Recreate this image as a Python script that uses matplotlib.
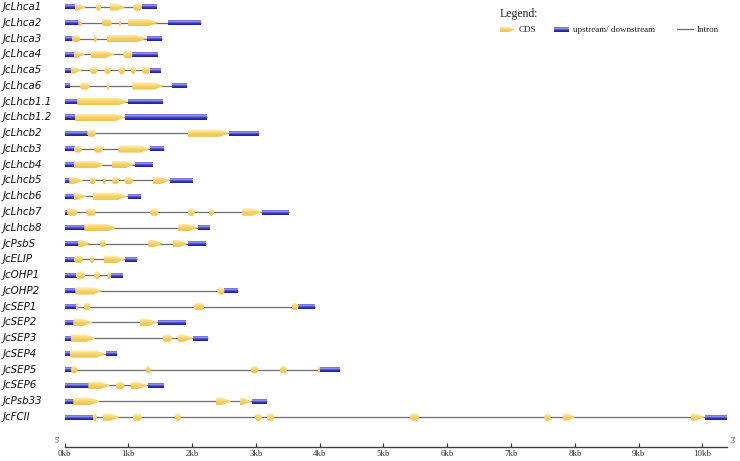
import matplotlib
matplotlib.use('Agg')
import matplotlib.pyplot as plt
import numpy as np
from matplotlib.patches import Polygon

# ---------------- data (kb) ----------------
gene_names = ['JcLhca1', 'JcLhca2', 'JcLhca3', 'JcLhca4', 'JcLhca5', 'JcLhca6',
              'JcLhcb1.1', 'JcLhcb1.2', 'JcLhcb2', 'JcLhcb3', 'JcLhcb4', 'JcLhcb5',
              'JcLhcb6', 'JcLhcb7', 'JcLhcb8', 'JcPsbS', 'JcELIP', 'JcOHP1', 'JcOHP2',
              'JcSEP1', 'JcSEP2', 'JcSEP3', 'JcSEP4', 'JcSEP5', 'JcSEP6', 'JcPsb33', 'JcFCII']

utr_regions = [
    [(0, 0.165), (1.21, 1.434)],
    [(0, 0.216), (1.627, 2.14)],
    [(0, 0.113), (1.288, 1.523)],
    [(0, 0.149), (1.063, 1.455)],
    [(0, 0.097), (1.34, 1.50)],
    [(0, 0.075), (1.68, 1.915)],
    [(0, 0.2), (1.0, 1.539)],
    [(0, 0.165), (0.953, 2.238)],
    [(0, 0.357), (2.583, 3.049)],
    [(0, 0.149), (1.345, 1.56)],
    [(0, 0.149), (1.1, 1.371)],
    [(0, 0.075), (1.649, 1.998)],
    [(0, 0.149), (0.99, 1.183)],
    [(0, 0.034), (3.096, 3.514)],
    [(0, 0.31), (2.092, 2.27)],
    [(0, 0.216), (1.94, 2.213)],
    [(0, 0.149), (0.953, 1.136)],
    [(0, 0.18), (0.729, 0.906)],
    [(0, 0.17), (2.505, 2.72)],
    [(0, 0.175), (3.665, 3.926)],
    [(0, 0.138), (1.461, 1.889)],
    [(0, 0.102), (2.019, 2.254)],
    [(0, 0.086), (0.65, 0.818)],
    [(0, 0.102), (4.005, 4.318)],
    [(0, 0.373), (1.304, 1.549)],
    [(0, 0.138), (2.934, 3.169)],
    [(0, 0.442), (10.04, 10.38)],
]

cds_regions = [
    [(0.165, 0.34), (0.494, 0.572), (0.713, 0.964), (1.078, 1.21)],
    [(0.216, 0.27), (0.583, 0.74), (0.85, 0.886), (0.99, 1.47)],
    [(0.113, 0.243), (0.462, 0.505), (0.661, 1.288)],
    [(0.149, 0.321), (0.415, 0.79), (0.92, 1.063)],
    [(0.097, 0.279), (0.40, 0.514), (0.624, 0.724), (0.843, 0.948), (1.037, 1.12), (1.21, 1.34)],
    [(0.243, 0.389), (0.661, 0.702), (1.063, 1.56)],
    [(0.2, 1.0)],
    [(0.165, 0.953)],
    [(0.357, 0.489), (1.93, 2.583)],
    [(0.149, 0.27), (0.462, 0.6), (0.843, 1.345)],
    [(0.149, 0.635), (0.745, 1.1)],
    [(0.075, 0.295), (0.40, 0.489), (0.599, 0.65), (0.74, 0.854), (0.937, 1.069), (1.382, 1.649)],
    [(0.149, 0.348), (0.442, 0.99)],
    [(0.034, 0.2), (0.332, 0.489), (1.34, 1.47), (1.93, 2.045), (2.265, 2.343), (2.787, 3.096)],
    [(0.31, 0.818), (1.784, 2.092)],
    [(0.216, 0.41), (0.556, 0.65), (1.313, 1.549), (1.696, 1.94)],
    [(0.149, 0.285), (0.40, 0.462), (0.619, 0.953)],
    [(0.18, 0.321), (0.462, 0.556), (0.671, 0.729)],
    [(0.17, 0.599), (2.395, 2.505)],
    [(0.175, 0.216), (0.306, 0.4), (2.03, 2.186), (3.56, 3.665)],
    [(0.138, 0.442), (1.183, 1.461)],
    [(0.102, 0.494), (1.539, 1.68), (1.774, 2.019)],
    [(0.086, 0.65)],
    [(0.102, 0.2), (1.272, 1.35), (2.923, 3.038), (3.378, 3.483), (3.969, 4.005)],
    [(0.373, 0.713), (0.807, 0.937), (1.042, 1.304)],
    [(0.138, 0.556), (2.375, 2.621), (2.745, 2.934)],
    [(0.442, 0.505), (0.599, 0.87), (1.069, 1.21), (1.732, 1.821), (2.986, 3.09),
     (3.169, 3.288), (5.415, 5.556), (7.52, 7.62), (7.818, 8.017), (9.815, 10.04)],
]

tick_values = list(range(0, 11))
tick_labels = ['%dkb' % v for v in tick_values]
axis_end_kb = 10.38

# ---------------- styling ----------------
W, H = 740, 461
fig = plt.figure(figsize=(W / 100, H / 100), dpi=100)
px_per_kb = 63.8
x0_px = 64.5
axis_y_px = 447
row0_px, row_step_px = 7.0, 15.77

left = x0_px / W
width = axis_end_kb * px_per_kb / W
bottom = (H - axis_y_px) / H
ax = fig.add_axes([left, bottom, width, 1 - bottom])
ax.patch.set_alpha(0)

ylim_top = -row0_px / row_step_px
ylim_bot = (axis_y_px - row0_px) / row_step_px

yellow = np.array([matplotlib.colors.to_rgb(c) for c in
                   ['#fff3c8', '#fbe394', '#f6d46c', '#f2cb5a', '#eec452']])
blue = np.array([matplotlib.colors.to_rgb(c) for c in
                 ['#5a5ad8', '#a8a8f2', '#5050d0', '#2c2cb0', '#1f1f98']])


def grad_img(cols, n=32):
    t = np.linspace(0, 1, n)
    tc = np.linspace(0, 1, len(cols))
    arr = np.stack([np.interp(t, tc, cols[:, k]) for k in range(3)], axis=1)
    return arr.reshape(n, 1, 3)


Y_IMG = grad_img(yellow)
B_IMG = grad_img(blue)

cds_h = 7.4 / row_step_px
utr_h = 5.0 / row_step_px
tip_kb = 0.155
arrow_min = 0.17


def draw_cds(x0, x1, yc):
    w = x1 - x0
    h = cds_h
    if w >= arrow_min:
        tip = min(tip_kb, 0.75 * w)
        pts = [(x0, yc - h / 2), (x1 - tip, yc - h / 2), (x1, yc),
               (x1 - tip, yc + h / 2), (x0, yc + h / 2)]
    else:
        cx = min(0.03, 0.3 * w)
        cy = 0.3 * h
        pts = [(x0 + cx, yc - h / 2), (x1 - cx, yc - h / 2), (x1, yc - h / 2 + cy),
               (x1, yc + h / 2 - cy), (x1 - cx, yc + h / 2), (x0 + cx, yc + h / 2),
               (x0, yc + h / 2 - cy), (x0, yc - h / 2 + cy)]
    poly = Polygon(pts, closed=True, facecolor='none', edgecolor='none', zorder=3)
    ax.add_patch(poly)
    im = ax.imshow(Y_IMG, extent=[x0, x1, yc + h / 2, yc - h / 2], aspect='auto',
                   interpolation='bilinear', origin='upper', zorder=3)
    im.set_clip_path(poly)


def draw_utr(x0, x1, yc):
    h = utr_h
    ax.imshow(B_IMG, extent=[x0, x1, yc + h / 2, yc - h / 2], aspect='auto',
              interpolation='bilinear', origin='upper', zorder=2)


label_tr = matplotlib.transforms.blended_transform_factory(fig.transFigure, ax.transData)
for i, name in enumerate(gene_names):
    yc = i
    segs = utr_regions[i] + cds_regions[i]
    gs = min(s for s, e in segs)
    ge = max(e for s, e in segs)
    ax.plot([gs, ge], [yc, yc], color='#6e6e6e', lw=0.9, zorder=1, solid_capstyle='butt')
    for s, e in utr_regions[i]:
        draw_utr(s, e, yc)
    for s, e in cds_regions[i]:
        draw_cds(s, e, yc)
    ax.text(3 / W, yc, name, transform=label_tr,
            ha='left', va='center', fontsize=7.4, style='italic', family='DejaVu Sans', color='#111111')

ax.set_xlim(0, axis_end_kb)
ax.set_ylim(ylim_bot, ylim_top)
for sp in ['top', 'left', 'right']:
    ax.spines[sp].set_visible(False)
ax.spines['bottom'].set_color('#404040')
ax.spines['bottom'].set_linewidth(1.0)
ax.set_yticks([])
ax.set_xticks(tick_values)
ax.set_xticklabels(tick_labels, family='Liberation Serif', fontsize=6.4, color='#333333')
ax.tick_params(axis='x', direction='in', length=3, width=0.8, color='#404040', pad=2.0)

# ---------------- overlay (legend, 5'/3') ----------------
ov = fig.add_axes([0, 0, 1, 1])
ov.set_xlim(0, W)
ov.set_ylim(H, 0)
ov.axis('off')
ov.patch.set_alpha(0)

ov.text(57, 440.5, "5'", family='Liberation Serif', fontsize=5.5, ha='center', va='center', color='#333333')
ov.text(733, 440.5, "3'", family='Liberation Serif', fontsize=5.5, ha='center', va='center', color='#333333')

ov.text(500, 14, 'Legend:', family='Liberation Serif', fontsize=8.5, ha='left', va='center', color='#222222')
ly = 29.5
lp = Polygon([(500, ly - 3), (507, ly - 3), (515, ly), (507, ly + 3), (500, ly + 3)],
             closed=True, facecolor='none', edgecolor='none')
ov.add_patch(lp)
li = ov.imshow(Y_IMG, extent=[500, 515, ly + 3, ly - 3], aspect='auto', interpolation='bilinear', origin='upper')
li.set_clip_path(lp)
ov.text(519, ly, 'CDS', family='Liberation Serif', fontsize=6.5, ha='left', va='center', color='#222222')
ov.imshow(B_IMG, extent=[554, 569, ly + 2.2, ly - 2.2], aspect='auto', interpolation='bilinear', origin='upper')
ov.text(573, ly, 'upstream/ downstream', family='Liberation Serif', fontsize=6.5, ha='left', va='center', color='#222222')
ov.plot([677, 693], [ly, ly], color='#6e6e6e', lw=0.9)
ov.text(697, ly, 'Intron', family='Liberation Serif', fontsize=6.5, ha='left', va='center', color='#222222')
ov.set_xlim(0, W)
ov.set_ylim(H, 0)

fig.savefig('out.png', dpi=100)
